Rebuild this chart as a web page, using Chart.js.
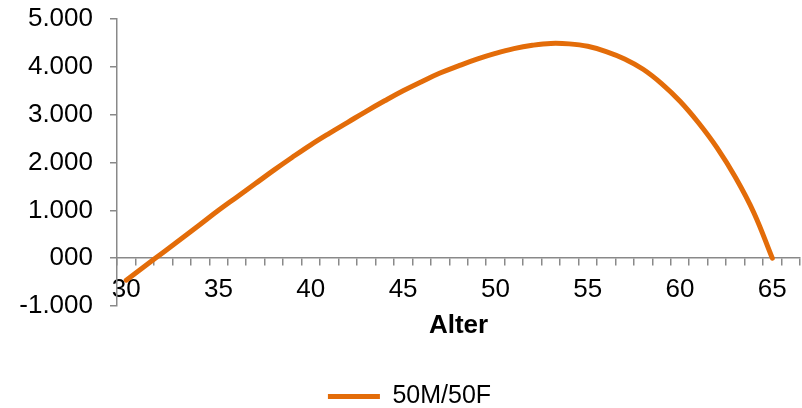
<!DOCTYPE html>
<html lang="de">
<head>
<meta charset="utf-8">
<title>50M/50F nach Alter</title>
<script src="https://cdn.jsdelivr.net/npm/chart.js@4/dist/chart.umd.min.js"></script>
<style>
  html, body { margin: 0; padding: 0; background: #fff; }
  .chart-wrap { position: relative; width: 802px; height: 408px; }
</style>
</head>
<body>
<div class="chart-wrap"><canvas id="chart" role="img" aria-label="50M/50F nach Alter"></canvas></div>
<script>
/* data */
var ages = [30, 31, 32, 33, 34, 35, 36, 37, 38, 39, 40, 41, 42, 43, 44, 45, 46, 47, 48,
  49, 50, 51, 52, 53, 54, 55, 56, 57, 58, 59, 60, 61, 62, 63, 64, 65, 66];
var values5050 = [-460, -170, 120, 410, 705, 1000, 1280, 1560, 1840, 2110, 2370, 2610, 2840,
  3070, 3290, 3500, 3690, 3870, 4020, 4160, 4280, 4380, 4450, 4490, 4480, 4430, 4320, 4165,
  3950, 3650, 3280, 2830, 2310, 1690, 950, 0, null];
var xTickLabels = ['30', '35', '40', '45', '50', '55', '60', '65'];
var yTickValues = [-1000, 0, 1000, 2000, 3000, 4000, 5000];
var yTickLabels = ['-1.000', '000', '1.000', '2.000', '3.000', '4.000', '5.000'];
var seriesLabel = '50M/50F';
var xTitle = 'Alter';

(function () {
  'use strict';

  var FONT = 'Liberation Sans, Arial, sans-serif';
  var ORANGE = '#E36C09';
  var AXIS = '#898989';

  Chart.defaults.color = '#000';
  Chart.defaults.font.family = FONT;

  var canvas = document.getElementById('chart');

  new Chart(canvas, {
    type: 'line',
    data: {
      labels: ages.map(String),
      datasets: [{
        label: seriesLabel,
        data: values5050,
        borderColor: ORANGE,
        backgroundColor: ORANGE,
        borderWidth: 5,
        borderCapStyle: 'round',
        pointRadius: 0,
        tension: 0.4,
        fill: false
      }]
    },
    options: {
      responsive: true,
      maintainAspectRatio: false,
      animation: false,
      layout: { padding: { left: 19, right: 2, top: 19, bottom: -11 } },
      plugins: {
        tooltip: { enabled: false },
        legend: {
          position: 'bottom',
          labels: {
            usePointStyle: true,
            pointStyle: 'line',
            pointStyleWidth: 52,
            padding: 78,
            color: '#000',
            font: { family: FONT, size: 25 }
          }
        }
      },
      scales: {
        x: {
          type: 'category',
          position: { y: 0 },
          offset: true,
          grid: {
            offset: true,
            drawOnChartArea: false,
            drawTicks: true,
            tickLength: 7,
            color: AXIS,
            lineWidth: 1.5
          },
          border: { display: true, color: AXIS, width: 1.5 },
          ticks: {
            autoSkip: false,
            maxRotation: 0,
            padding: 9,
            color: '#000',
            font: { family: FONT, size: 26 },
            callback: function (v) {
              var lab = this.getLabelForValue(v);
              return xTickLabels.indexOf(lab) >= 0 ? lab : '';
            }
          },
          title: {
            display: true,
            text: xTitle,
            color: '#000',
            padding: { top: -4, bottom: 0 },
            font: { family: FONT, size: 26, weight: 'bold' }
          }
        },
        y: {
          min: -1000,
          max: 5000,
          afterFit: function (axis) {
            // Chart.js counts tick padding twice; keep the box just wide enough
            axis.width = 98;
            axis.paddingTop = 0;
            axis.paddingBottom = 0;
          },
          grid: {
            drawOnChartArea: false,
            drawTicks: true,
            tickLength: 7,
            color: AXIS,
            lineWidth: 1.5
          },
          border: { display: true, color: AXIS, width: 1.5 },
          ticks: {
            stepSize: 1000,
            padding: 17,
            color: '#000',
            font: { family: FONT, size: 26 },
            callback: function (v) {
              var i = yTickValues.indexOf(v);
              return i >= 0 ? yTickLabels[i] : '';
            }
          }
        }
      }
    }
  });
})();
</script>
</body>
</html>
